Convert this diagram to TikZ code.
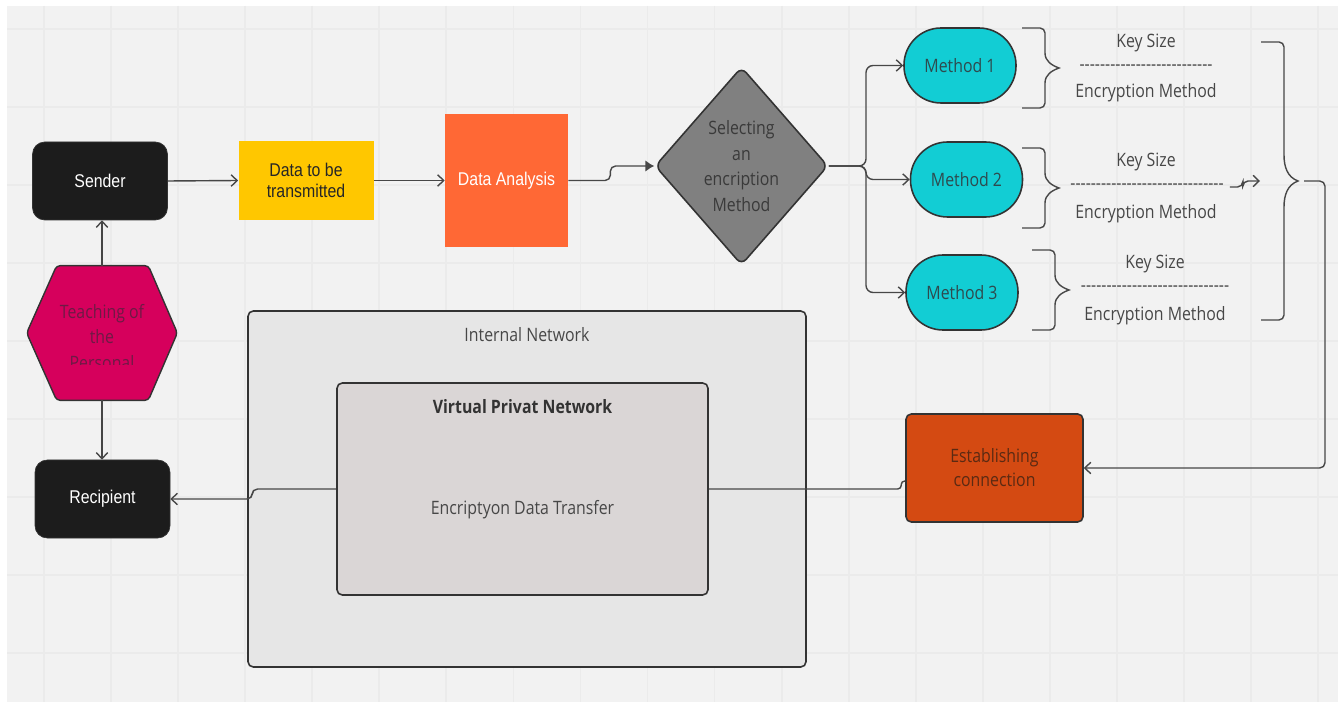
\documentclass[tikz,border=0pt]{standalone}
\usepackage{fontspec}
\usetikzlibrary{shapes.geometric,arrows.meta,positioning,calc,backgrounds}
\newfontfamily\boardfont[FakeStretch=0.86]{Open Sans}
\newfontfamily\labelfont[FakeStretch=0.86]{Liberation Sans}
\definecolor{canvas}{HTML}{F2F2F2}
\definecolor{gridln}{HTML}{EBEBEB}
\definecolor{wire}{HTML}{474747}
\definecolor{edge}{HTML}{333333}
\definecolor{ink}{HTML}{474747}
\definecolor{termblack}{HTML}{1C1C1C}
\definecolor{datayellow}{HTML}{FFC700}
\definecolor{analysisred}{HTML}{FF6835}
\definecolor{selgray}{HTML}{808080}
\definecolor{seltext}{HTML}{3A3A3A}
\definecolor{methodcyan}{HTML}{12CDD4}
\definecolor{methodink}{HTML}{2E4A4E}
\definecolor{connorange}{HTML}{D44A12}
\definecolor{estink}{HTML}{5B2A12}
\definecolor{hexpink}{HTML}{D6005C}
\definecolor{hexink}{HTML}{6E1A45}
\definecolor{netgray}{HTML}{E6E6E6}
\definecolor{vpngray}{HTML}{DAD6D6}
\newcommand{\dashrow}[1]{\foreach \dk in {1,...,#1}{-\kern0pt}}

\begin{document}
\begin{tikzpicture}[
  txt/.style={font=\boardfont\fontsize{10.5}{14.5}\selectfont,align=center,text=ink},
  term/.style={rectangle,rounded corners=7pt,draw=edge,fill=termblack,minimum width=2.7cm,
               minimum height=1.56cm,text=white,font=\labelfont\fontsize{10.5}{12}\selectfont},
  flat/.style={rectangle,fill=#1,align=center,font=\labelfont\fontsize{10.5}{12}\selectfont},
  method/.style={txt,rectangle,rounded corners=0.74cm,draw=edge,line width=0.9pt,
               fill=methodcyan,minimum width=2.24cm,minimum height=1.5cm,text=methodink},
  panel/.style={rectangle,rounded corners=3pt,draw=edge,line width=0.9pt,fill=#1},
  wire/.style={draw=wire,line width=0.8pt},
  arr/.style={wire,-{Straight Barb[length=3.4pt,width=6.5pt]}},
  pics/rbrace/.style 2 args={code={
    \draw[wire] (0,0) -- (0.36,0) to[out=0,in=90] (0.46,-0.1)
      -- (0.46,{-#1/2+#2}) to[out=-90,in=160] (0.74,{-#1/2})
      to[out=200,in=90] (0.46,{-#1/2-#2}) -- (0.46,{-#1+0.1})
      to[out=-90,in=0] (0.36,-#1) -- (0,-#1);
  }}
]
\useasboundingbox (0,0) rectangle (26.76,-14.04);

% top row
\node[term] (snd) at (2.0,-3.62) {Sender};
\node[flat=datayellow,minimum width=2.7cm,minimum height=1.58cm,text=black!85] (data) at (6.12,-3.61) {Data to be\\transmitted};
\node[flat=analysisred,minimum width=2.46cm,minimum height=2.66cm,text=white] (ana) at (10.13,-3.61) {Data Analysis};
\node[txt,diamond,aspect=0.87,draw=edge,line width=0.9pt,fill=selgray,rounded corners=4pt,
      minimum width=3.46cm,minimum height=3.96cm,inner sep=0pt,text=seltext] (sel) at (14.83,-3.32)
      {Selecting\\an\\encription\\Method};

% methods and their notes
\node[method] (m1) at (19.2,-1.31) {Method 1};
\node[method] (m2) at (19.33,-3.59) {Method 2};
\node[method] (m3) at (19.24,-5.85) {Method 3};
\pic at (20.44,-0.56) {rbrace={1.6}{0.3}};
\pic at (20.44,-2.96) {rbrace={1.6}{0.3}};
\pic at (20.64,-5.0) {rbrace={1.6}{0.3}};
\node[txt] (key1) at (22.92,-0.86) {Key Size};
\node[txt] (dash1) at (22.92,-1.36) {\dashrow{26}};
\node[txt] (enc1) at (22.92,-1.86) {Encryption Method};
\node[txt] (key2) at (22.92,-3.24) {Key Size};
\node[txt] (dash2) at (22.94,-3.74) {\dashrow{30}};
\node[txt] (enc2) at (22.92,-4.28) {Encryption Method};
\node[txt] (key3) at (23.1,-5.28) {Key Size};
\node[txt] (dash3) at (23.1,-5.78) {\dashrow{29}};
\node[txt] (enc3) at (23.1,-6.32) {Encryption Method};
% big brace round all three
\pic at (25.22,-0.84) {rbrace={5.56}{0.52}};
\coordinate (bracein) at (25.2,-3.62);
\coordinate (bracetip) at (26.08,-3.62);

% lower part
\node[panel=netgray,minimum width=11.16cm,minimum height=7.12cm] (inet) at (10.54,-9.78) {};
\node[txt] (inetlbl) at ($(inet.north)+(0,-0.48)$) {Internal Network};
\node[panel=vpngray,minimum width=7.42cm,minimum height=4.24cm] (vpn) at (10.45,-9.78) {};
\node[txt,font=\boardfont\bfseries\fontsize{10.5}{14.5}\selectfont,text=edge] (vpnlbl) at ($(vpn.north)+(0,-0.48)$) {Virtual Privat Network};
\node[txt] (vpntxt) at ($(vpn.center)+(0,-0.42)$) {Encriptyon Data Transfer};
\node[txt,panel=connorange,minimum width=3.54cm,minimum height=2.16cm,text=estink,
      font=\boardfont\fontsize{10.5}{13.6}\selectfont] (est) at (19.89,-9.36) {Establishing\\connection};

% left column
\node[term] (rec) at (2.05,-9.98) {Recipient};
\node[minimum width=3cm,minimum height=2.68cm] (teach) at (2.04,-6.66) {};
\begin{scope}
  \clip (0.5,-5.4) rectangle (3.6,-7.3);
  \node[txt,text=hexink] (teachlbl) at (2.04,-6.74) {Teaching of\\the\\Personal};
\end{scope}

% connectors
\draw[arr] (snd.east) -- (data.west);
\draw[arr] (data.east) -- (ana.west);
\draw[wire,-{Latex[length=5pt,width=6.5pt]},rounded corners=3pt] (ana.east) -- ++(0.84,0) |- (sel.west);
\coordinate (fork) at (17.32,-3.32);
\foreach \m in {m1,m2,m3}
  \draw[arr,rounded corners=4pt] (sel.east) -- (fork) |- (\m.west);
\draw[arr,rounded corners=3pt] (dash2.east) -- ++(0.26,0) |- (bracein);
\draw[arr,rounded corners=3pt] (bracetip) -- (26.5,-3.62) |- (est.east);
\draw[wire,rounded corners=2pt] ([yshift=-0.26cm]est.west) -- ++(-0.08,0) |- (vpn.east);
\draw[arr,rounded corners=3pt] (vpn.west) -- ++(-1.68,0) |- (rec.east);
\draw[arr] (teach.north) -- (teach.north |- snd.south);
\draw[arr] (teach.south) -- (teach.south |- rec.north);

% board and hexagon underneath
\begin{scope}[on background layer]
  \fill[white] (0,0) rectangle (26.76,-14.04);
  \fill[canvas] (0.14,-0.12) rectangle (26.76,-14.04);
  \foreach \i in {0,...,19}
    \draw[gridln,line width=1pt] ({0.88+1.3412*\i},-0.12) -- ++(0,-13.92);
  \foreach \j in {0,...,8}
    \draw[gridln,line width=1pt] (0.14,{-0.58-1.56*\j}) -- (26.76,{-0.58-1.56*\j});
  \filldraw[fill=hexpink,draw=edge,line width=0.8pt,rounded corners=2pt]
    (teach.west) -- ($(teach.north west)+(0.6,0)$) -- ($(teach.north east)+(-0.58,0)$)
    -- (teach.east) -- ($(teach.south east)+(-0.58,0)$) -- ($(teach.south west)+(0.6,0)$) -- cycle;
\end{scope}
\end{tikzpicture}
\end{document}
